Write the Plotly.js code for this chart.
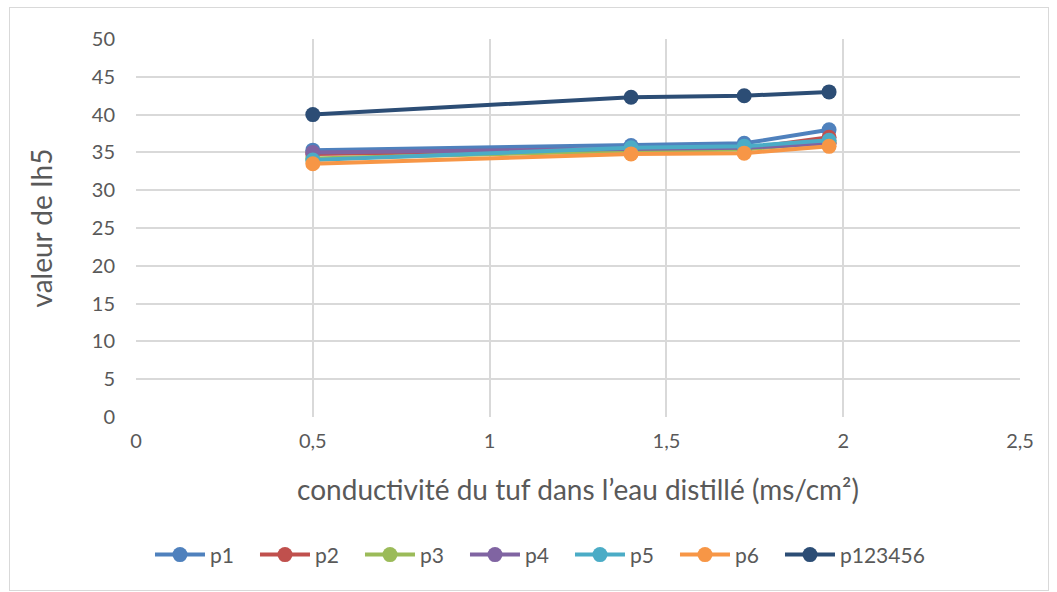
<!DOCTYPE html>
<html><head><meta charset="utf-8">
<script src="https://cdn.plot.ly/plotly-3.0.1.min.js"></script>
<style>html,body{margin:0;padding:0;background:#fff}#chart{width:1057px;height:592px}
#frame{position:absolute;left:9px;top:7px;width:1040px;height:584px;border:1px solid #d9d9d9;box-sizing:border-box;pointer-events:none}</style>
</head><body><div id="chart"></div><div id="frame"></div>
<script>
const conductivity = [0.5, 1.4, 1.72, 1.96];
const seriesNames = ["p1","p2","p3","p4","p5","p6","p123456"];
const p1 = [35.3, 35.9, 36.2, 38.0];
const p2 = [34.8, 35.3, 35.5, 37.0];
const p3 = [34.2, 35.2, 35.4, 36.3];
const p4 = [35.0, 35.5, 35.6, 36.2];
const p5 = [34.0, 35.6, 35.8, 36.6];
const p6 = [33.5, 34.8, 34.9, 35.8];
const p123456 = [40.0, 42.3, 42.5, 43.0];
const seriesValues = [p1,p2,p3,p4,p5,p6,p123456];
const colors = ["#4F81BD","#C0504D","#9BBB59","#8064A2","#4BACC6","#F79646","#2C4D75"];

const traces = seriesNames.map((n,i)=>{
  const t = {
    x: conductivity, y: seriesValues[i], name: n, type:'scatter', mode:'lines+markers',
    line:{color:colors[i], width:4}, marker:{color:colors[i], size:15}
  };
  if (i < seriesNames.length - 1) t.legendwidth = 40;
  return t;
});
const font = "Lato, sans-serif";
const layout = {
  width:1057, height:592, separators:', ',
  paper_bgcolor:'#fff', plot_bgcolor:'#fff',
  margin:{l:136, r:37, t:39, b:175},
  font:{family:font, color:'#595959', size:20},
  xaxis:{range:[0,2.5], dtick:0.5, tick0:0, showgrid:true, gridcolor:'#d9d9d9', gridwidth:1.5,
    zeroline:false, showline:false, ticks:'', ticklabelstandoff:10,
    title:{text:'conductivité du tuf dans l’eau distillé (ms/cm²)', font:{size:28, color:'#595959'}, standoff:29}},
  yaxis:{range:[0,50], dtick:5, showgrid:true, gridcolor:'#d9d9d9', gridwidth:1.5,
    zeroline:false, showline:false, ticks:'', ticklabelstandoff:20,
    title:{text:'valeur de Ih5', font:{size:28, color:'#595959'}, standoff:30}},
  legend:{orientation:'h', x:0.457, xanchor:'center', y:-0.365, yanchor:'middle',
    itemwidth:50, font:{size:21, color:'#595959'}},
  showlegend:true
};
Plotly.newPlot('chart', traces, layout, {displayModeBar:false});
</script></body></html>
